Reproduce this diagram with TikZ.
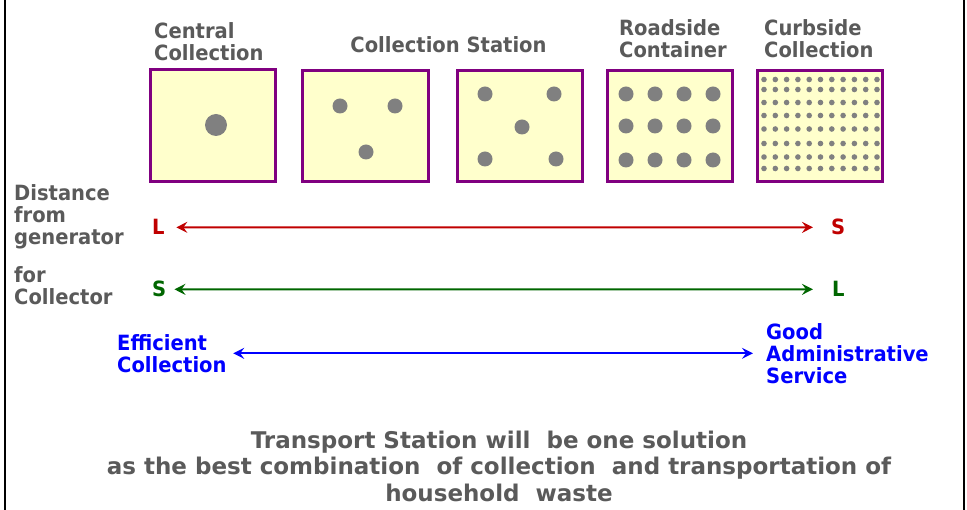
\documentclass[tikz,border=0pt]{standalone}
\usepackage{fontspec}
\setmainfont{DejaVu Sans}
\newfontfamily\labelfont[FakeStretch=0.93]{DejaVu Sans}
\usetikzlibrary{arrows.meta}

\definecolor{boxfill}{HTML}{FFFFCC}
\definecolor{boxline}{HTML}{800080}
\definecolor{dotgray}{HTML}{808080}
\definecolor{txtgray}{HTML}{5A5A5A}
\definecolor{arrred}{HTML}{C00000}
\definecolor{arrgreen}{HTML}{006600}
\definecolor{arrblue}{HTML}{0000FF}

\begin{document}
\begin{tikzpicture}[x=1pt,y=-1pt,
  bin/.style={draw=boxline, fill=boxfill, line width=2.6pt,
              minimum width=125.5pt, minimum height=111.5pt, inner sep=0pt},
  lbl/.style={font=\labelfont\fontsize{21}{22}\selectfont\bfseries,
              text=txtgray, inner sep=0pt, align=left, anchor=north west},
  tick/.style={lbl, anchor=base west},
  spot/.style={fill=dotgray},
  dbl/.style={line width=2pt,
              arrows={Stealth[length=11pt,width=11pt,inset=4pt]-Stealth[length=11pt,width=11pt,inset=4pt]}}
]
\useasboundingbox (0,0) rectangle (967,510);

% side frame lines
\draw[line width=2.5pt] (5,0) -- (5,510);
\draw[line width=2.5pt] (964,0) -- (964,510);

% collection bins
\node[bin] (b1) at (213,125.5) {};
\node[bin] (b2) at (365.5,126) {};
\node[bin] (b3) at (520,126) {};
\node[bin] (b4) at (670,126) {};
\node[bin] (b5) at (820,126) {};

% points of collection in each bin
\fill[spot] (216,125) circle (11);
\foreach \p in {(340,106),(395,106),(366,152)} \fill[spot] \p circle (7.5);
\foreach \p in {(485,94),(554,94),(522,127),(485,159),(556,159)} \fill[spot] \p circle (7.5);
\foreach \x in {626,655,684,713}
  \foreach \y in {94,126,160} \fill[spot] (\x,\y) circle (7.5);
\foreach \i in {0,...,10}
  \foreach \y in {79.5,89.5,102.5,115.5,129,143.5,157,168.5}
    \fill[spot] ({764+11.3*\i},\y) circle (2.8);

% headings
\node[lbl] (cc) at (154,22) {Central\\Collection};
\node[lbl, anchor=base] (cs) at (448.5,53) {Collection Station};
\node[lbl] (rc) at (619,19) {Roadside\\Container};
\node[lbl] (cu) at (764,19) {Curbside\\Collection};

% row captions
\node[lbl] (dg) at (14,184) {Distance\\from\\generator};
\node[lbl] (fc) at (14,266) {for\\Collector};

% scale ends
\node[tick, text=arrred] (l1) at (152,235) {L};
\node[tick, text=arrred] (s1) at (831,235) {S};
\node[tick, text=arrgreen] (s2) at (152,297) {S};
\node[tick, text=arrgreen] (l2) at (832,297) {L};
\node[lbl, text=arrblue] (ef) at (117,334) {Efficient\\Collection};
\node[lbl, text=arrblue] (ga) at (766,323) {Good\\Administrative\\Service};

% scales
\draw[dbl, arrred, shorten <=11.5pt, shorten >=18pt] (l1.east) -- (s1.west);
\draw[dbl, arrgreen, shorten <=8pt, shorten >=19pt] (s2.east) -- (l2.west);
\draw[dbl, arrblue, shorten <=6.5pt, shorten >=13pt] (ef.east) -- (ga.west);

% conclusion
\node[font=\fontsize{23}{26.5}\selectfont\bfseries, text=txtgray, align=center,
      inner sep=0pt, anchor=north] (sol) at (499,430.5)
  {Transport Station will\ \ be one solution\\
   as the best combination\ \ of collection\ \ and transportation of\\
   household\ \ waste};
\end{tikzpicture}
\end{document}
